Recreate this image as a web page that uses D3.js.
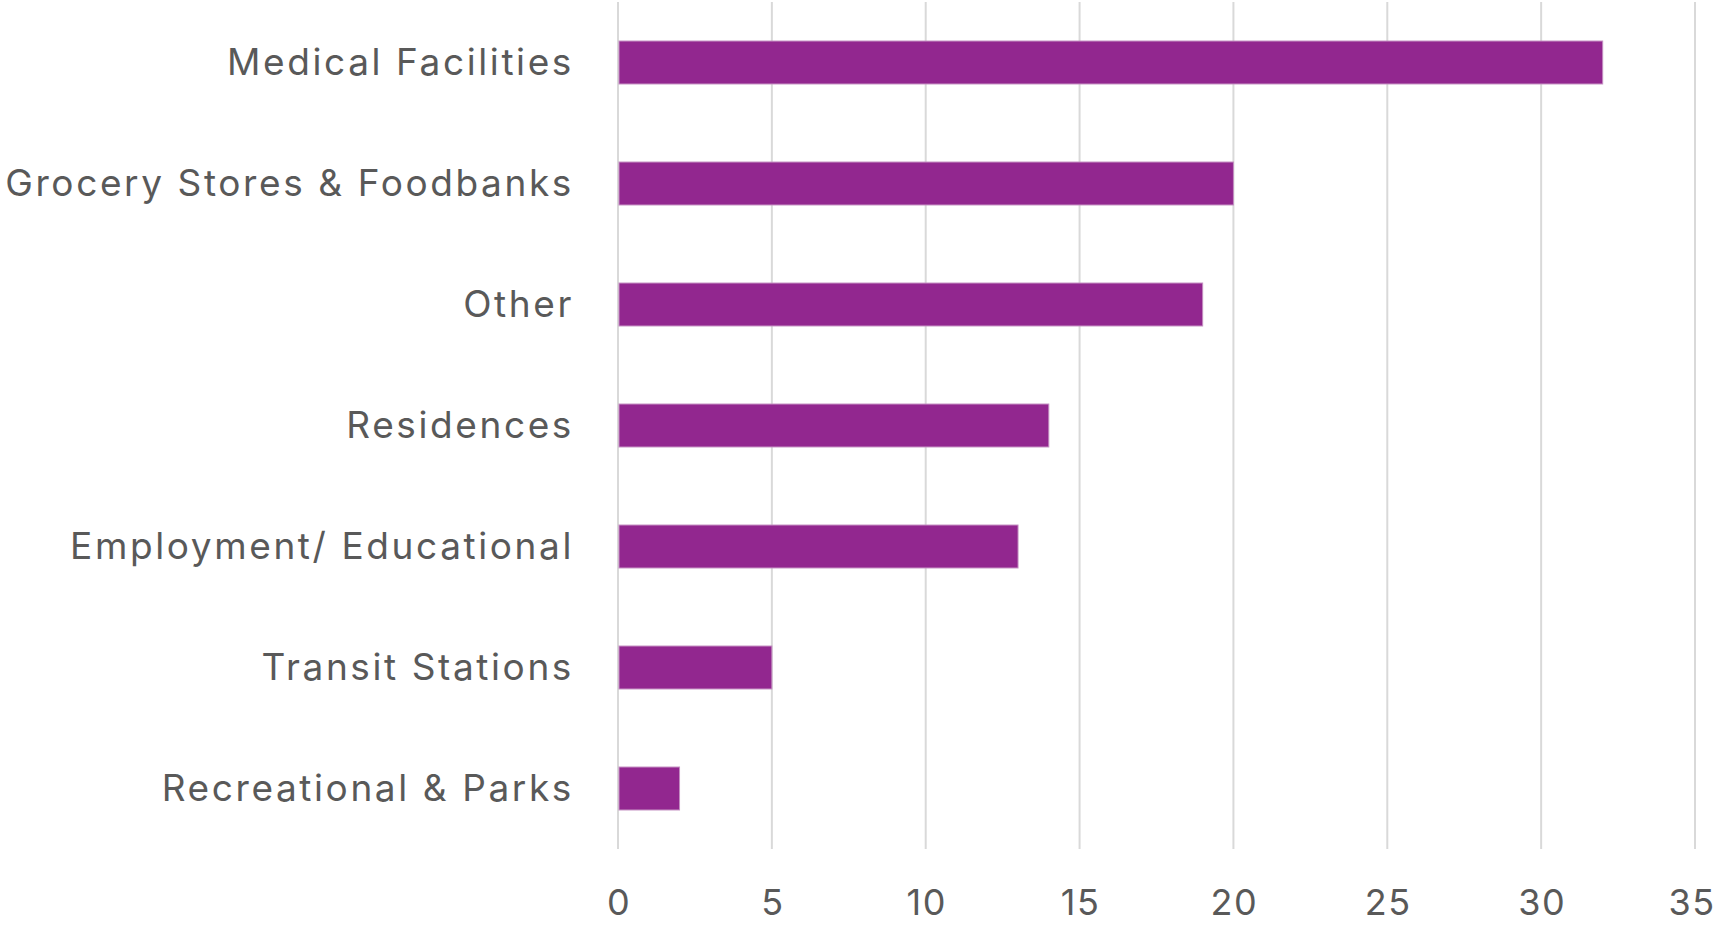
<!DOCTYPE html>
<html>
<head>
<meta charset="utf-8">
<script src="https://cdn.jsdelivr.net/npm/d3@7"></script>
<style>
body { margin: 0; background: #fff; }
svg text { font-family: "Inter", "Noto Sans", sans-serif; fill: #595959; }
</style>
</head>
<body>
<script>
var categories = ["Medical Facilities", "Grocery Stores & Foodbanks", "Other", "Residences",
                  "Employment/ Educational", "Transit Stations", "Recreational & Parks"];
var values = [32, 20, 19, 14, 13, 5, 2];
var xTicks = [0, 5, 10, 15, 20, 25, 30, 35];

var w = 1716;
var h = 925;
var margin = {top: 2, right: 21, bottom: 76, left: 618};

var svg = d3.select("body")
    .append("svg")
    .attr("width", w)
    .attr("height", h);

var x = d3.scaleLinear()
    .domain([0, 35])
    .range([margin.left, w - margin.right]);

var y = d3.scaleBand()
    .domain(categories)
    .range([margin.top, h - margin.bottom])
    .paddingInner(0.645)
    .paddingOuter(0.3225);

// gridlines
svg.append("g")
    .selectAll("line")
    .data(xTicks)
    .enter()
    .append("line")
    .attr("x1", function(d) { return x(d); })
    .attr("x2", function(d) { return x(d); })
    .attr("y1", margin.top)
    .attr("y2", h - margin.bottom)
    .attr("stroke", "#d9d9d9")
    .attr("stroke-width", 2);

// bars
svg.append("g")
    .selectAll("rect")
    .data(values)
    .enter()
    .append("rect")
    .attr("x", x(0) + 1)
    .attr("y", function(d, i) { return y(categories[i]); })
    .attr("width", function(d) { return x(d) - x(0) - 1; })
    .attr("height", y.bandwidth())
    .attr("fill", "#92278f")
    .attr("stroke", "#c38ec1")
    .attr("stroke-width", 1);

// category labels
svg.append("g")
    .selectAll("text")
    .data(categories)
    .enter()
    .append("text")
    .attr("x", 574)
    .attr("y", function(d) { return y(d) + y.bandwidth() / 2; })
    .attr("dy", "0.35em")
    .attr("text-anchor", "end")
    .style("font-size", "37px")
    .style("letter-spacing", "2.6px")
    .text(function(d) { return d; });

// x tick labels (kept just inside the picture edges)
svg.append("g")
    .selectAll("text")
    .data(xTicks)
    .enter()
    .append("text")
    .attr("x", function(d, i) { return x(d) + 1 - (i === xTicks.length - 1 ? 4 : 0); })
    .attr("y", 915)
    .attr("text-anchor", "middle")
    .style("font-size", "36px")
    .style("letter-spacing", "1.5px")
    .text(function(d) { return d; });
</script>
</body>
</html>
